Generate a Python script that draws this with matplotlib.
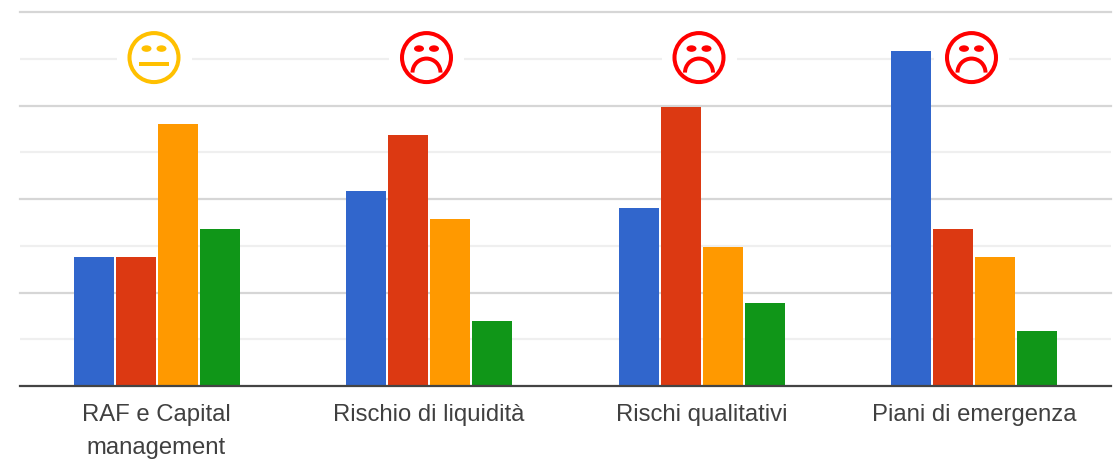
import numpy as np
import matplotlib
matplotlib.use("Agg")
import matplotlib.pyplot as plt
from matplotlib.offsetbox import AnnotationBbox, DrawingArea
from matplotlib.patches import Circle, Ellipse, Rectangle, Wedge

categories = ["RAF e Capital\nmanagement", "Rischio di liquidità", "Rischi qualitativi", "Piani di emergenza"]
series_a = [55, 83.5, 76, 143.5]
series_b = [55, 107.5, 119.5, 67]
series_c = [112, 71.5, 59.5, 55]
series_d = [67, 28, 35.5, 23.5]
colors = ["#3166cc", "#dc3912", "#ff9900", "#109618"]
faces = ["neutral", "sad", "sad", "sad"]
face_colors = ["#ffc000", "#ff0000", "#ff0000", "#ff0000"]
face_value = 140.5
minor_ticks = [20, 60, 100, 140]
major_ticks = [40, 80, 120, 160]


def face_icon(kind, color):
    # icon geometry is given in pixels at 100 dpi; DrawingArea works in points
    s = 0.72
    da = DrawingArea(75 * s, 56 * s, 0, 0)
    cx, cy = 37.5 * s, 28 * s
    da.add_artist(Rectangle((0, 0), 75 * s, 56 * s, fc="white", ec="none"))
    da.add_artist(Circle((cx, cy), 24.5 * s, fc="none", ec=color, lw=2.9))
    for dx in (-7.5, 7.5):
        da.add_artist(Ellipse((cx + dx * s, cy + 9 * s), 10 * s, 6.5 * s, fc=color, ec="none"))
    if kind == "neutral":
        da.add_artist(Rectangle((cx - 15 * s, cy - 8 * s), 30 * s, 4 * s, fc=color, ec="none"))
    else:
        da.add_artist(Wedge((cx, cy - 15 * s), 16 * s, 0, 180, width=4 * s, fc=color, ec="none"))
    return da


W, H = 1119, 459
RIGHT = 1111
fig = plt.figure(figsize=(W / 100, H / 100), dpi=100)
ax = fig.add_axes([20 / W, 1 - 386 / H, (RIGHT - 20) / W, (386 - 12) / H])
x = np.arange(len(categories))
pitch = 42 / 272.5
width = 40 / 272.5
for i, (vals, c) in enumerate(zip([series_a, series_b, series_c, series_d], colors)):
    ax.bar(x + (i - 1.5) * pitch, vals, width, color=c, zorder=3, linewidth=0)
ax.set_xlim((20 - 156.5) / 272.5, (RIGHT - 156.5) / 272.5)
ax.set_ylim(0, 160)
for v in minor_ticks:
    ax.axhline(v, color="#efefef", lw=1.6, zorder=1)
for v in major_ticks:
    ax.axhline(v, color="#d6d6d6", lw=1.6, zorder=1, clip_on=False)
ax.axhline(0, color="#444444", lw=1.6, zorder=4, clip_on=False)
for s in ax.spines.values():
    s.set_visible(False)
ax.set_yticks([])
ax.set_xticks(x)
ax.set_xticklabels(categories, fontsize=17.2, color="#404040", family="Liberation Sans", linespacing=1.65)
ax.tick_params(axis="x", length=0, pad=13)
for xi, kind, c in zip(x, faces, face_colors):
    ab = AnnotationBbox(face_icon(kind, c), (xi - 2.5 / 272.5, face_value), frameon=False, pad=0,
                        box_alignment=(0.5, 0.5), zorder=2, annotation_clip=False)
    ax.add_artist(ab)
fig.savefig("out.png", dpi=100, facecolor="white")
